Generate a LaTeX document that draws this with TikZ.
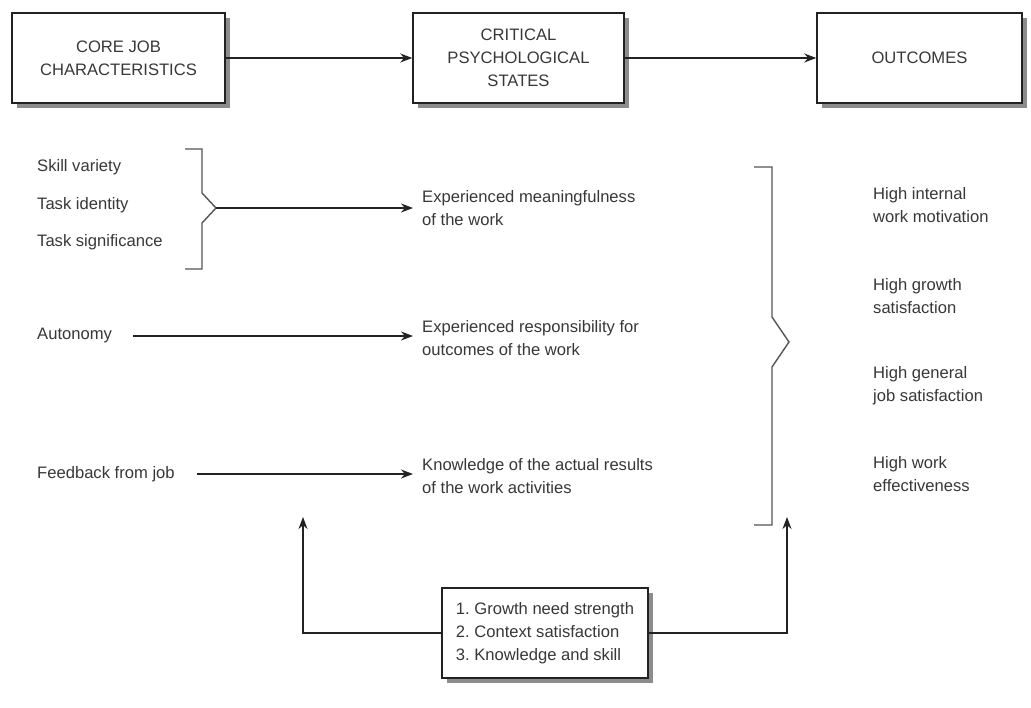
\documentclass[tikz,border=0pt]{standalone}
\usepackage{fontspec}
\setmainfont{Liberation Sans}
\usetikzlibrary{arrows.meta,shadows}
\definecolor{txt}{HTML}{383838}
\definecolor{ln}{HTML}{222222}
\definecolor{brk}{HTML}{555555}
\definecolor{shd}{HTML}{8C8C8C}
\frenchspacing
\begin{document}
\begin{tikzpicture}[x=1pt,y=-1pt,
  every node/.style={font=\fontsize{16.6}{23}\selectfont, text=txt},
  bigbox/.style={draw=ln, line width=1.5pt, fill=white, minimum height=90pt, align=center,
    drop shadow={shadow xshift=5pt, shadow yshift=-5pt, fill=shd, opacity=1}},
  lbl/.style={anchor=west, inner xsep=0pt, align=left},
  mid/.style={anchor=west, inner xsep=9pt, align=left},
  arr/.style={draw=ln, line width=1.5pt, -{Stealth[length=12pt,width=9pt]}},
  brace/.style={draw=brk, line width=1.4pt}
]
\useasboundingbox (0,0) rectangle (1031,707);
\fill[white] (0,0) rectangle (1031,707);

% top boxes
\node[bigbox, minimum width=213pt] (core) at (118.5,58) {CORE JOB\\CHARACTERISTICS};
\node[bigbox, minimum width=211pt] (cps) at (518.5,58) {CRITICAL\\PSYCHOLOGICAL\\STATES};
\node[bigbox, minimum width=205pt] (out) at (919.5,58) {OUTCOMES};
\draw[arr] (core) -- (cps);
\draw[arr] (cps) -- (out);

% left items
\node[lbl] (sv) at (37,167) {Skill variety};
\node[lbl] (ti) at (37,205) {Task identity};
\node[lbl] (ts) at (37,242) {Task significance};
\node[lbl] (au) at (37,336) {Autonomy};
\node[lbl] (fb) at (37,474) {Feedback from job};

% left bracket
\draw[brace] (185,149) -- (202,149) -- (202,193) -- (216,208) -- (202,223) -- (202,269) -- (185,269);
\coordinate (lbp) at (216,208);

% middle states
\node[mid] (m1) at (413,208.5) {Experienced meaningfulness\\of the work};
\node[mid] (m2) at (413,338.5) {Experienced responsibility for\\outcomes of the work};
\node[mid] (m3) at (413,476.5) {Knowledge of the actual results\\of the work activities};

\coordinate (aus) at (133,336);
\coordinate (fbs) at (197,474);
\draw[arr] (lbp) -- (m1.west |- lbp);
\draw[arr] (aus) -- (m2.west |- aus);
\draw[arr] (fbs) -- (m3.west |- fbs);

% right bracket
\draw[brace] (754,167) -- (772,167) -- (772,317) -- (789,342) -- (772,367) -- (772,525) -- (754,525);

% outcomes
\node[lbl] (o1) at (873,205.5) {High internal\\work motivation};
\node[lbl] (o2) at (873,296.5) {High growth\\satisfaction};
\node[lbl] (o3) at (873,386) {High general\\job satisfaction};
\node[lbl] (o4) at (873,474.5) {High work\\effectiveness};

% moderators
\node[draw=ln, line width=1.5pt, fill=white, minimum width=206pt, minimum height=90pt,
  align=left,
  drop shadow={shadow xshift=5pt, shadow yshift=-5pt, fill=shd, opacity=1}] (mod) at (545,633)
  {1. Growth need strength\\2. Context satisfaction\\3. Knowledge and skill};
\coordinate (lft) at (303,517);
\coordinate (rgt) at (787,517);
\draw[arr] (mod.west) -| (lft);
\draw[arr] (mod.east) -| (rgt);
\end{tikzpicture}
\end{document}
